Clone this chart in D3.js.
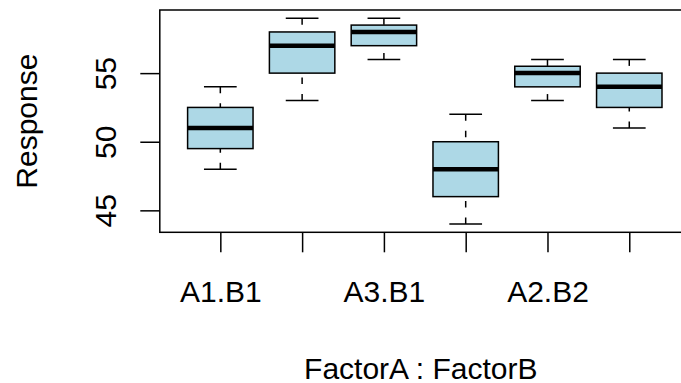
<!DOCTYPE html>
<html>
<head>
<meta charset="utf-8">
<script src="https://cdn.jsdelivr.net/npm/d3@7"></script>
<style>
  html, body { margin: 0; padding: 0; background: #fff; }
  svg { display: block; }
  text { font-family: "Liberation Sans", Arial, Helvetica, sans-serif; fill: #000; }
</style>
</head>
<body>
<svg id="chart" width="681" height="383"></svg>
<script>
// Groups: FactorA : FactorB interaction cells
const categories = ["A1.B1", "A2.B1", "A3.B1", "A1.B2", "A2.B2", "A3.B2"];
// Labels shown under the x ticks (R drops the ones that would overlap)
const tickLabels = ["A1.B1", "", "A3.B1", "", "A2.B2", ""];
// Five-number summaries per group
const whiskerLow  = [48,   53, 56,   44, 53,   51];
const lowerHinge  = [49.5, 55, 57,   46, 54,   52.5];
const medians     = [51,   57, 58,   48, 55,   54];
const upperHinge  = [52.5, 58, 58.5, 50, 55.5, 55];
const whiskerHigh = [54,   59, 59,   52, 56,   56];
const yTicks = [45, 50, 55];

const svg = d3.select("#chart");
const lw = 1.5;

// Plot region (R-style: range padded by 4%)
const n = categories.length;
const xDom = [0.5, n + 0.5];
const xPad = (xDom[1] - xDom[0]) * 0.04;
const yMin = d3.min(whiskerLow), yMax = d3.max(whiskerHigh);
const yPad = (yMax - yMin) * 0.04;

const x = d3.scaleLinear().domain([xDom[0] - xPad, xDom[1] + xPad]).range([159.8, 689.8]);
const y = d3.scaleLinear().domain([yMin - yPad, yMax + yPad]).range([232.3, 10]);

const data = categories.map((c, i) => ({
  key: c, pos: i + 1, label: tickLabels[i],
  lo: whiskerLow[i], q1: lowerHinge[i], med: medians[i], q3: upperHinge[i], hi: whiskerHigh[i]
}));

const boxHalf = 0.4, capHalf = 0.2;
const g = svg.append("g");

data.forEach(d => {
  const cx = x(d.pos);
  // whiskers, dashed, drawn from the whisker end toward the hinge
  g.append("line")
    .attr("x1", cx).attr("x2", cx).attr("y1", y(d.lo)).attr("y2", y(d.q1))
    .attr("stroke", "#000").attr("stroke-width", lw).attr("stroke-dasharray", "6.5,10");
  g.append("line")
    .attr("x1", cx).attr("x2", cx).attr("y1", y(d.hi)).attr("y2", y(d.q3))
    .attr("stroke", "#000").attr("stroke-width", lw).attr("stroke-dasharray", "6.5,10");
  // staples
  [d.lo, d.hi].forEach(v => {
    g.append("line")
      .attr("x1", x(d.pos - capHalf)).attr("x2", x(d.pos + capHalf))
      .attr("y1", y(v)).attr("y2", y(v))
      .attr("stroke", "#000").attr("stroke-width", lw);
  });
  // box
  g.append("rect")
    .attr("x", x(d.pos - boxHalf)).attr("width", x(d.pos + boxHalf) - x(d.pos - boxHalf))
    .attr("y", y(d.q3)).attr("height", y(d.q1) - y(d.q3))
    .attr("fill", "#ADD8E6").attr("stroke", "#000").attr("stroke-width", lw);
  // median
  g.append("line")
    .attr("x1", x(d.pos - boxHalf)).attr("x2", x(d.pos + boxHalf))
    .attr("y1", y(d.med)).attr("y2", y(d.med))
    .attr("stroke", "#000").attr("stroke-width", lw * 3);
});

// frame
svg.append("rect")
  .attr("x", x.range()[0]).attr("y", y.range()[1])
  .attr("width", x.range()[1] - x.range()[0]).attr("height", y.range()[0] - y.range()[1])
  .attr("fill", "none").attr("stroke", "#000").attr("stroke-width", lw);

// x axis
const xAxis = d3.axisBottom(x)
  .tickValues(data.map(d => d.pos))
  .tickFormat((v, i) => tickLabels[i])
  .tickSize(20).tickPadding(0);
const xg = svg.append("g").attr("transform", `translate(0,${y.range()[0]})`).call(xAxis);
xg.select(".domain").remove();
xg.selectAll(".tick line").attr("stroke", "#000").attr("stroke-width", lw);
xg.selectAll(".tick text")
  .attr("dy", null).attr("y", 302.3 - y.range()[0])
  .style("font-size", "30px").style("font-family", "'Liberation Sans', Arial, sans-serif")
  .attr("fill", "#000");

// y axis
const yAxis = d3.axisLeft(y).tickValues(yTicks).tickFormat(d3.format("d")).tickSize(19.5);
const yg = svg.append("g").attr("transform", `translate(${x.range()[0]},0)`).call(yAxis);
yg.select(".domain").remove();
yg.selectAll(".tick line").attr("stroke", "#000").attr("stroke-width", lw);
yg.selectAll(".tick text")
  .attr("x", null).attr("dy", null)
  .attr("text-anchor", "middle")
  .attr("transform", `translate(${115.7 - x.range()[0]},0) rotate(-90)`)
  .style("font-size", "30px").style("font-family", "'Liberation Sans', Arial, sans-serif")
  .attr("fill", "#000");

// axis titles
svg.append("text")
  .attr("text-anchor", "middle")
  .attr("transform", `translate(37,${(y.range()[0] + y.range()[1]) / 2}) rotate(-90)`)
  .style("font-size", "30px")
  .text("Response");

svg.append("text")
  .attr("text-anchor", "middle")
  .attr("x", (x.range()[0] + x.range()[1]) / 2 - 4)
  .attr("y", 379.3)
  .style("font-size", "30px")
  .text("FactorA : FactorB");
</script>
</body>
</html>
